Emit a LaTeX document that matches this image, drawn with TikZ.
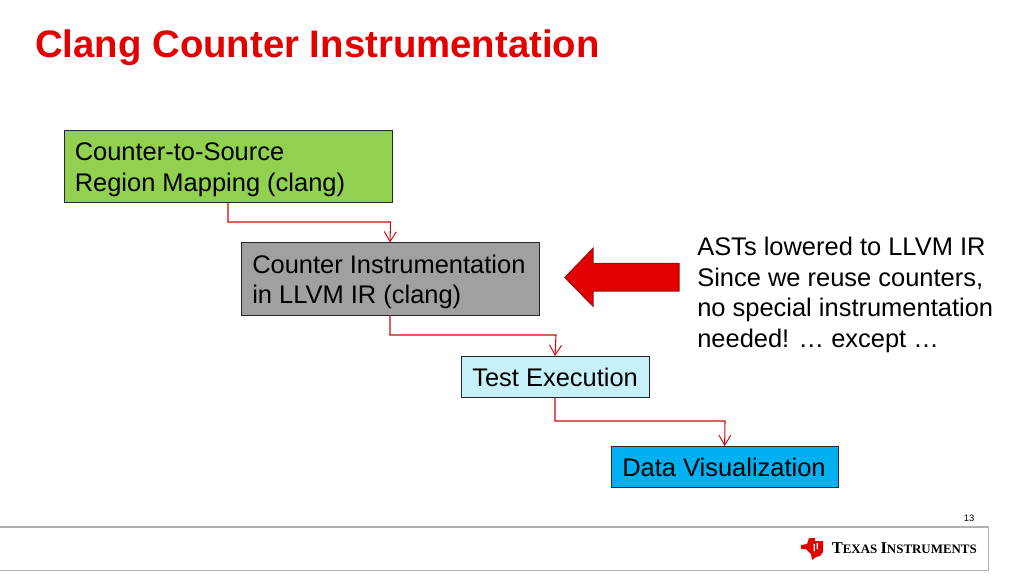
\documentclass[tikz,border=0pt]{standalone}
\usepackage{fontspec}
\setmainfont{Liberation Sans}
\newfontfamily\logofont{Liberation Serif}
\usetikzlibrary{arrows.meta}
\definecolor{tired}{RGB}{227,0,0}
\definecolor{linkred}{RGB}{205,10,10}
\tikzset{
  box/.style={draw=black!85,line width=0.6pt,anchor=north west,inner sep=0pt,outer sep=0pt},
  lbl/.style={anchor=west,inner sep=0pt,align=left,font=\fontsize{19.1}{23}\selectfont},
  link/.style={draw=linkred,line width=0.8pt,-{Straight Barb[length=7.5pt,width=9pt,line width=0.7pt]}},
}
\begin{document}
\begin{tikzpicture}[x=0.75pt,y=-0.75pt]
\useasboundingbox (0,0) rectangle (1024,576);
\node[anchor=west,inner sep=0pt,text=tired,font=\fontsize{28.75}{32}\bfseries\selectfont] (title) at (35,47.5) {Clang Counter Instrumentation};
% boxes
\node[box,fill={rgb,255:red,146;green,208;blue,80},minimum width=246pt,minimum height=54.5pt] (a) at (64,130) {};
\node[box,fill={rgb,255:red,160;green,160;blue,160},minimum width=223.5pt,minimum height=54.5pt] (b) at (241,242.5) {};
\node[box,fill={rgb,255:red,198;green,240;blue,250},minimum width=141pt,minimum height=31pt] (c) at (461,356) {};
\node[box,fill={rgb,255:red,0;green,176;blue,240},minimum width=170.5pt,minimum height=31pt] (d) at (611,446) {};
\node[lbl] (at) at (74.5,170) {Counter-to-Source\\Region Mapping (clang)};
\node[lbl] (bt) at (252,282) {Counter Instrumentation\\in LLVM IR (clang)};
\node[lbl] (ct) at (472,377.5) {Test Execution};
\node[lbl] (dt) at (622,467.5) {Data Visualization};
% connectors
\coordinate (a1) at (228,203);
\draw[link] (a.south -| a1) |- (390.5,222) -- (b.north);
\draw[link] (b.south) |- (556,335) -- (c.north);
\draw[link] (c.south) |- (725,421) -- (d.north);
% block arrow
\path[draw={rgb,255:red,170;green,10;blue,10},line width=1pt,fill=tired] (679,263.5) -- (593,263.5) -- (593,248.5) -- (565,277.5) -- (593,306) -- (593,291) -- (679,291) -- cycle;
\node[lbl] (note) at (697,295) {ASTs lowered to LLVM IR\\Since we reuse counters,\\no special instrumentation\\needed! … except …};
% footer
\node[anchor=center,inner sep=0pt,font=\fontsize{7}{8}\selectfont] (pg) at (969,518.5) {13};
\draw[draw=black!30,line width=0.9pt] (-2,527) -- (988.5,527) -- (988.5,570.5) -- (-2,570.5);
% logo
\path[fill=tired] (801,545) -- (807,544) -- (809,538) -- (815,538) -- (815,541) -- (823,541) -- (823,552) -- (820,556) -- (816,557) -- (812,560) -- (811,554) -- (806,549) -- (801,549) -- cycle;
\path[fill=white] (813.5,544) rectangle (814.8,551) (816.5,543) rectangle (817.8,549);
\node[anchor=west,inner sep=0pt,font=\logofont\bfseries] (logo) at (831.5,548.5) {\fontsize{12.4}{12}\selectfont T\fontsize{9.7}{12}\selectfont EXAS \fontsize{12.4}{12}\selectfont I\fontsize{9.7}{12}\selectfont NSTRUMENTS};
\end{tikzpicture}
\end{document}
